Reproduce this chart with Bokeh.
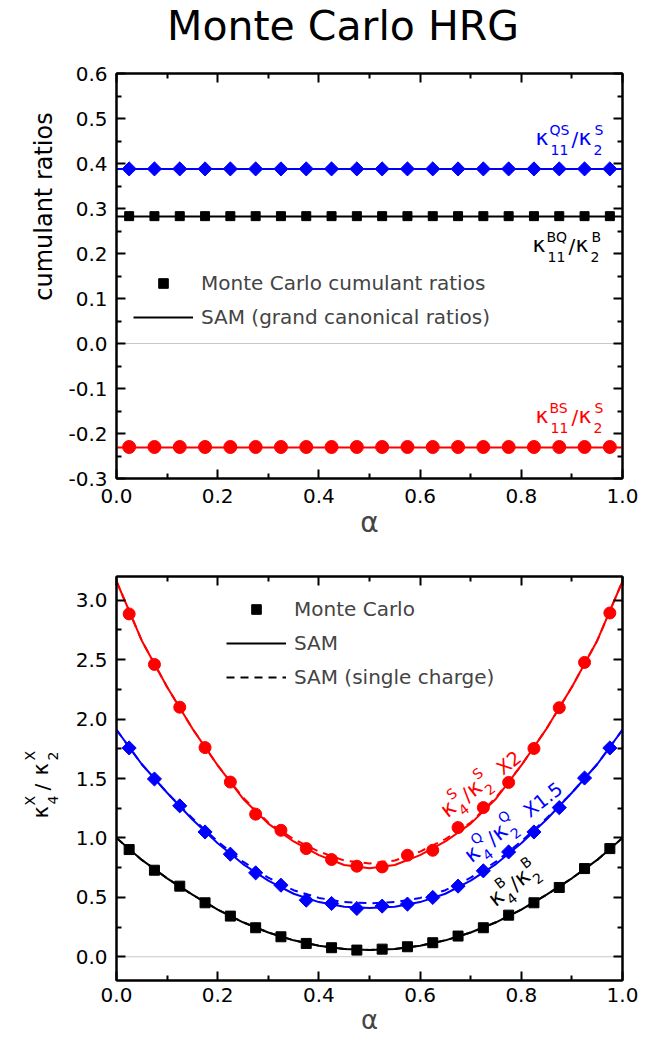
import math
from bokeh.plotting import figure
from bokeh.models import (Label, Legend, LegendItem, LinearAxis, FixedTicker,
                          NumeralTickFormatter, Range1d, Span, CustomJSTickFormatter)
from bokeh.layouts import column, row
from bokeh.embed import file_html
from bokeh.resources import INLINE

# ---------------- data ----------------
mc_alpha = [0.025, 0.075, 0.125, 0.175, 0.225, 0.275, 0.325, 0.375, 0.425, 0.475,
            0.525, 0.575, 0.625, 0.675, 0.725, 0.775, 0.825, 0.875, 0.925, 0.975]

# top panel: Monte Carlo cumulant ratios
mc_qs = [0.388, 0.388, 0.388, 0.388, 0.388, 0.388, 0.388, 0.388, 0.388, 0.388,
         0.388, 0.388, 0.388, 0.388, 0.388, 0.388, 0.388, 0.388, 0.388, 0.388]
mc_bq = [0.283, 0.283, 0.283, 0.283, 0.283, 0.283, 0.283, 0.283, 0.283, 0.283,
         0.283, 0.283, 0.283, 0.283, 0.283, 0.283, 0.283, 0.283, 0.283, 0.283]
mc_bs = [-0.230, -0.230, -0.230, -0.230, -0.230, -0.230, -0.230, -0.230, -0.230, -0.230,
         -0.230, -0.230, -0.230, -0.230, -0.230, -0.230, -0.230, -0.230, -0.230, -0.230]
# top panel: SAM (grand canonical ratios)
sam_top_alpha = [0.0, 1.0]
sam_qs = [0.388, 0.388]
sam_bq = [0.282, 0.282]
sam_bs = [-0.231, -0.231]

# bottom panel: Monte Carlo kurtosis ratios
mc_S = [2.885, 2.46, 2.10, 1.76, 1.47, 1.20, 1.064, 0.91, 0.818, 0.762,
        0.756, 0.854, 0.896, 1.087, 1.255, 1.467, 1.753, 2.096, 2.477, 2.893]
mc_Q = [1.757, 1.496, 1.27, 1.05, 0.863, 0.706, 0.602, 0.476, 0.448, 0.406,
        0.426, 0.443, 0.499, 0.594, 0.723, 0.882, 1.05, 1.255, 1.504, 1.757]
mc_B = [0.902, 0.728, 0.594, 0.454, 0.342, 0.244, 0.168, 0.112, 0.076, 0.056,
        0.064, 0.084, 0.118, 0.174, 0.244, 0.35, 0.454, 0.583, 0.742, 0.91]
# bottom panel: SAM curves
sam_alpha = [0.0, 0.05, 0.1, 0.15, 0.2, 0.25, 0.3, 0.35, 0.4, 0.45, 0.5,
             0.55, 0.6, 0.65, 0.7, 0.75, 0.8, 0.85, 0.9, 0.95, 1.0]
sam_S = [3.16, 2.66, 2.27, 1.92, 1.61, 1.33, 1.12, 0.97, 0.855, 0.772, 0.745,
         0.772, 0.855, 0.97, 1.12, 1.33, 1.61, 1.92, 2.27, 2.66, 3.16]
sam_S_single = [3.16, 2.66, 2.27, 1.92, 1.61, 1.34, 1.13, 0.99, 0.885, 0.81, 0.785,
                0.81, 0.885, 0.99, 1.13, 1.34, 1.61, 1.92, 2.27, 2.66, 3.16]
sam_Q = [1.91, 1.62, 1.38, 1.155, 0.955, 0.78, 0.64, 0.53, 0.46, 0.42, 0.41,
         0.42, 0.46, 0.53, 0.64, 0.78, 0.955, 1.155, 1.38, 1.62, 1.91]
sam_Q_single = [1.91, 1.62, 1.38, 1.165, 0.97, 0.80, 0.665, 0.56, 0.495, 0.46, 0.45,
                0.46, 0.495, 0.56, 0.665, 0.80, 0.97, 1.165, 1.38, 1.62, 1.91]
sam_B = [1.0, 0.815, 0.66, 0.522, 0.396, 0.29, 0.204, 0.138, 0.093, 0.066, 0.057,
         0.066, 0.093, 0.138, 0.204, 0.29, 0.396, 0.522, 0.66, 0.815, 1.0]
sam_B_single = [1.0, 0.815, 0.66, 0.522, 0.396, 0.29, 0.204, 0.138, 0.093, 0.066, 0.057,
                0.066, 0.093, 0.138, 0.204, 0.29, 0.396, 0.522, 0.66, 0.815, 1.0]

# ticks
x_major = [0.0, 0.2, 0.4, 0.6, 0.8, 1.0]
x_minor = [0.1, 0.3, 0.5, 0.7, 0.9]
top_y_major = [-0.3, -0.2, -0.1, 0.0, 0.1, 0.2, 0.3, 0.4, 0.5, 0.6]
top_y_minor = [-0.25, -0.15, -0.05, 0.05, 0.15, 0.25, 0.35, 0.45, 0.55]
bot_y_major = [0.0, 0.5, 1.0, 1.5, 2.0, 2.5, 3.0]
bot_y_minor = [0.25, 0.75, 1.25, 1.75, 2.25, 2.75]

# ---------------- styling / geometry (page pixels) ----------------
FONT = "DejaVu Sans"
MID = 0.346          # (ascent - descent) / 2 for DejaVu Sans, in em
RED = "#ff0000"
BLUE = "#0000ff"
BLACK = "#000000"
FW = 506
LABW = 60
LEFT = 56
RIGHT = 22
TOTAL_W = LABW + LEFT + FW + RIGHT
TITLE_H = 52
P1_TOP, P1_FH, P1_BOT = 21, 405, 70
P2_TOP, P2_FH, P2_BOT = 28, 404, 62
P1_H = P1_TOP + P1_FH + P1_BOT
P2_H = P2_TOP + P2_FH + P2_BOT
P1_Y = TITLE_H
P2_Y = P1_Y + P1_H
FRAME_X = LABW + LEFT
F1_TOP = P1_Y + P1_TOP
F2_TOP = P2_Y + P2_TOP


def blank_fig(w, h, y_top, y_bot, btop=0, bbot=0):
    f = figure(width=w, height=h, x_range=Range1d(0, w), y_range=Range1d(-y_bot, -y_top),
               x_axis_type=None, y_axis_type=None, output_backend="svg",
               toolbar_location=None, min_border_left=0, min_border_right=0,
               min_border_top=btop, min_border_bottom=bbot, title=None)
    f.outline_line_color = None
    return f


def make_fig(frame_h, y0, y1, ymaj, ymin, btop, bbot, tick_standoff, alpha_size):
    p = figure(frame_width=FW, frame_height=frame_h,
               x_range=Range1d(0, 1), y_range=Range1d(y0, y1),
               x_axis_type=None, y_axis_type=None, title=None,
               output_backend="svg", toolbar_location=None,
               min_border_left=LEFT, min_border_right=RIGHT,
               min_border_top=btop, min_border_bottom=bbot)
    p.outline_line_color = "black"
    p.outline_line_width = 2
    xt = FixedTicker(ticks=x_major, minor_ticks=x_minor)
    yt = FixedTicker(ticks=ymaj, minor_ticks=ymin)
    for side, ticker, show in [("below", xt, True), ("above", xt, False),
                               ("left", yt, True), ("right", yt, False)]:
        ax = LinearAxis(ticker=ticker)
        ax.axis_line_width = 2
        ax.major_tick_in = 9
        ax.major_tick_out = 0
        ax.minor_tick_in = 5
        ax.minor_tick_out = 0
        ax.major_tick_line_width = 2
        ax.minor_tick_line_width = 2
        ax.major_label_text_font = FONT
        ax.major_label_text_color = "black"
        if show:
            ax.formatter = NumeralTickFormatter(format="0.0")
            ax.major_label_text_font_size = "20px"
            ax.major_label_standoff = 9 if side == "left" else tick_standoff
        else:
            ax.formatter = CustomJSTickFormatter(code="return ''")
            ax.major_label_text_font_size = "0px"
            ax.major_label_standoff = 0
        if side == "below":
            ax.axis_label = "α"
            ax.axis_label_text_font = FONT
            ax.axis_label_text_font_style = "normal"
            ax.axis_label_text_font_size = f"{alpha_size}px"
            ax.axis_label_standoff = 0
        p.add_layout(ax, side)
    p.add_layout(Span(location=0, dimension="width", line_color="#c8c8c8",
                      line_width=1, level="underlay"))
    return p


def put_pieces(p, conv, start, angle_deg, pieces, color, align="left"):
    """start: page position of the baseline start; pieces: (text, size, along, up)."""
    th = math.radians(angle_deg)
    c, s = math.cos(th), math.sin(th)
    for text, size, a, q in pieces:
        q_mid = q + MID * size      # anchor at the middle of the text box
        px = start[0] + a * c - q_mid * s
        py = start[1] - a * s - q_mid * c
        x, y = conv(px, py)
        p.add_layout(Label(x=x, y=y, text=text, angle=th, text_font=FONT,
                           text_font_size=f"{size}px", text_color=color,
                           text_align=align, text_baseline="middle"))


def page_conv(px, py):
    return (px, -py)


# ---------------- title strip ----------------
title_fig = blank_fig(TOTAL_W, TITLE_H, 0, TITLE_H)
put_pieces(title_fig, page_conv, (342.5, 40), 0, [("Monte Carlo HRG", 41, 0, 0)],
           BLACK, align="center")

# ---------------- top panel ----------------
p1 = make_fig(P1_FH, -0.3, 0.6, top_y_major, top_y_minor, P1_TOP, P1_BOT, 10, 28)


def conv1(px, py):
    return ((px - FRAME_X) / FW, 0.6 - (py - F1_TOP) * 0.9 / P1_FH)


p1.line(sam_top_alpha, sam_qs, line_color=BLUE, line_width=2)
l_bq = p1.line(sam_top_alpha, sam_bq, line_color=BLACK, line_width=2)
p1.line(sam_top_alpha, sam_bs, line_color=RED, line_width=2)
p1.scatter(mc_alpha, mc_qs, marker="square", angle=math.pi / 4, size=10,
           fill_color=BLUE, line_color=BLUE)
s_bq = p1.scatter(mc_alpha, mc_bq, marker="square", size=9,
                  fill_color=BLACK, line_color=BLACK)
p1.scatter(mc_alpha, mc_bs, marker="circle", size=13, fill_color=RED, line_color=RED)

leg1 = Legend(items=[LegendItem(label="Monte Carlo cumulant ratios", renderers=[s_bq]),
                     LegendItem(label="SAM (grand canonical ratios)", renderers=[l_bq])],
              location=(17, 149), border_line_color=None, background_fill_alpha=0,
              padding=0, margin=0, spacing=10, glyph_width=60, glyph_height=24,
              label_height=24, label_standoff=8, label_text_font=FONT,
              label_text_font_size="20px")
p1.add_layout(leg1)


def top_pieces(sup1, sup2):
    return [("κ", 22, 0, 0), ("11", 14, 15, -9), (sup1, 14, 14, 11), ("/", 20, 36, 0),
            ("κ", 22, 43, 0), ("2", 14, 58, -9), (sup2, 14, 59, 11)]


put_pieces(p1, conv1, (535, 145), 0, top_pieces("QS", "S"), BLUE)
put_pieces(p1, conv1, (532, 252), 0, top_pieces("BQ", "B"), BLACK)
put_pieces(p1, conv1, (535, 423), 0, top_pieces("BS", "S"), RED)

lab1 = blank_fig(LABW, P1_H, F1_TOP, F1_TOP + P1_FH, P1_TOP, P1_BOT)
put_pieces(lab1, page_conv, (52, 206), 90, [("cumulant ratios", 24, 0, 0)],
           BLACK, align="center")

# ---------------- bottom panel ----------------
p2 = make_fig(P2_FH, -0.2, 3.2, bot_y_major, bot_y_minor, P2_TOP, P2_BOT, 7, 26)


def conv2(px, py):
    return ((px - FRAME_X) / FW, 3.2 - (py - F2_TOP) * 3.4 / P2_FH)


p2.line(sam_alpha, sam_S_single, line_color=RED, line_width=2, line_dash="8 6")
p2.line(sam_alpha, sam_S, line_color=RED, line_width=2)
p2.line(sam_alpha, sam_Q_single, line_color=BLUE, line_width=2, line_dash="8 6")
p2.line(sam_alpha, sam_Q, line_color=BLUE, line_width=2)
l_bd = p2.line(sam_alpha, sam_B_single, line_color=BLACK, line_width=2, line_dash="8 6")
l_bs = p2.line(sam_alpha, sam_B, line_color=BLACK, line_width=2)
p2.scatter(mc_alpha, mc_S, marker="circle", size=12, fill_color=RED, line_color=RED)
p2.scatter(mc_alpha, mc_Q, marker="square", angle=math.pi / 4, size=10,
           fill_color=BLUE, line_color=BLUE)
s_b = p2.scatter(mc_alpha, mc_B, marker="square", size=10, fill_color=BLACK, line_color=BLACK)

leg2 = Legend(items=[LegendItem(label="Monte Carlo", renderers=[s_b]),
                     LegendItem(label="SAM", renderers=[l_bs]),
                     LegendItem(label="SAM (single charge)", renderers=[l_bd])],
              location=(110, 291), border_line_color=None, background_fill_alpha=0,
              padding=0, margin=0, spacing=10, glyph_width=60, glyph_height=24,
              label_height=24, label_standoff=8, label_text_font=FONT,
              label_text_font_size="20px")
p2.add_layout(leg2)


def rot_pieces(sup, tail, wsup):
    pcs = [("κ", 22, 0, 0), ("4", 14, 14, -8), (sup, 14, 14, 12), ("/", 20, 16 + wsup, 0),
           ("κ", 22, 23 + wsup, 0), ("2", 14, 37 + wsup, -8), (sup, 14, 37 + wsup, 12)]
    if tail:
        pcs.append((tail, 19, 50 + 2 * wsup, 0))
    return pcs


put_pieces(p2, conv2, (447, 818), 38, rot_pieces("S", "X2", 10), RED)
put_pieces(p2, conv2, (471, 863), 38, rot_pieces("Q", "X1.5", 12), BLUE)
put_pieces(p2, conv2, (495, 907), 38, rot_pieces("B", None, 10), BLACK)

lab2 = blank_fig(LABW, P2_H, F2_TOP, F2_TOP + P2_FH, P2_TOP, P2_BOT)
put_pieces(lab2, page_conv, (48, 818), 90,
           [("κ", 21, 0, 0), ("4", 14, 14, -9), ("X", 14, 13, 14), ("/", 20, 28, 0),
            ("κ", 21, 43, 0), ("2", 14, 58, -9), ("X", 14, 58, 14)], BLACK)

layout = column(title_fig, row(lab1, p1), row(lab2, p2))
open("out.html", "w").write(file_html(layout, INLINE))
